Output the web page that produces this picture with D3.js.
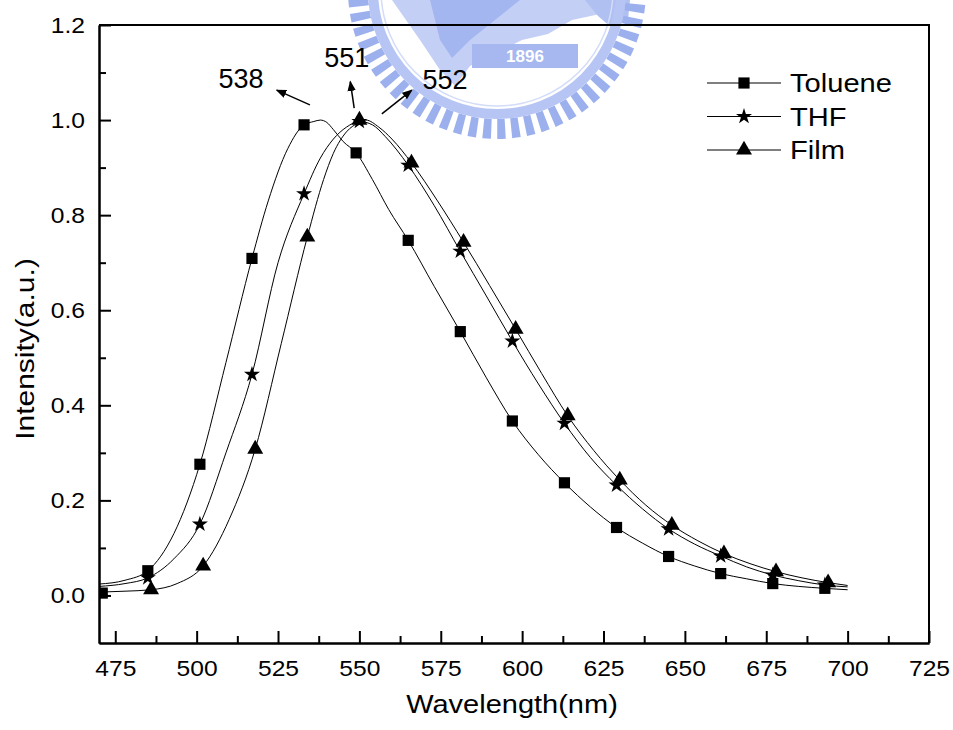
<!DOCTYPE html>
<html lang="en">
<head>
    <meta charset="UTF-8">
    <title>PL spectra</title>
    <script src="https://cdn.jsdelivr.net/npm/d3@7"></script>
    <style>
        *{
            padding: 0;
            margin: 0;
        }
        body{
            background: #fff;
        }
        svg{
            display: block;
            font-family: "Liberation Sans", Arial, sans-serif;
        }
    </style>
</head>
<body>
<script>
    // axis ticks
    let xTicks = [475,500,525,550,575,600,625,650,675,700,725];
    let xMinor = [487.5,512.5,537.5,562.5,587.5,612.5,637.5,662.5,687.5,712.5];
    let yTicks = [0,0.2,0.4,0.6,0.8,1.0,1.2];
    let yMinor = [0.1,0.3,0.5,0.7,0.9,1.1];
    let seriesNames = ["Toluene","THF","Film"];

    // spectra (wavelength nm / normalised intensity)
    let tolueneWl  = [470,478,485,493,501,509,517,522,528,533,536,538,540,542,545,549,554,559,565,573,581,589,597,605,613,621,629,637,645,653,661,669,677,685,693,700];
    let tolueneInt = [0.024,0.032,0.052,0.13,0.276,0.49,0.709,0.83,0.94,0.99,0.997,1.0,0.995,0.98,0.955,0.931,0.875,0.812,0.747,0.65,0.555,0.458,0.367,0.296,0.237,0.186,0.143,0.11,0.082,0.062,0.046,0.035,0.025,0.019,0.015,0.012];
    let thfWl  = [470,478,485,493,501,509,517,525,533,538,542,546,550,554,558,565,573,581,589,597,605,613,621,629,637,645,653,661,669,677,685,693,700];
    let thfInt = [0.019,0.025,0.037,0.077,0.15,0.3,0.465,0.7,0.845,0.92,0.96,0.985,0.997,0.99,0.965,0.905,0.82,0.724,0.63,0.535,0.445,0.362,0.29,0.232,0.182,0.14,0.108,0.083,0.06,0.043,0.031,0.022,0.018];
    let filmWl  = [470,478,486,494,502,510,518,526,534,539,542,546,550,552,556,560,566,574,582,590,598,606,614,622,630,638,646,654,662,670,678,686,694,700];
    let filmInt = [0.007,0.009,0.012,0.025,0.062,0.16,0.308,0.53,0.754,0.875,0.93,0.975,0.995,1.0,0.985,0.96,0.91,0.83,0.743,0.652,0.56,0.467,0.378,0.305,0.243,0.19,0.148,0.115,0.088,0.067,0.05,0.037,0.027,0.021];

    // symbols along each curve
    let tolueneMarkWl  = [471,485,501,517,533,549,565,581,597,613,629,645,661,677,693];
    let tolueneMarkInt = [0.005,0.052,0.276,0.709,0.99,0.931,0.747,0.555,0.367,0.237,0.143,0.082,0.046,0.025,0.015];
    let thfMarkWl  = [485,501,517,533,550,565,581,597,613,629,645,661,677,693];
    let thfMarkInt = [0.037,0.15,0.465,0.845,0.997,0.905,0.724,0.535,0.362,0.232,0.14,0.083,0.043,0.022];
    let filmMarkWl  = [486,502,518,534,550,566,582,598,614,630,646,662,678,694];
    let filmMarkInt = [0.012,0.062,0.308,0.754,1.0,0.91,0.743,0.56,0.378,0.243,0.148,0.088,0.05,0.027];

    let peakLabels = ["538","551","552"];

    let W = 953, H = 730;
    let sx = 1.12; // text is drawn a bit wider than Arial
    let svg = d3.select("body")
        .append("svg")
        .attr("width", W)
        .attr("height", H);

    let x = d3.scaleLinear().domain([470,725]).range([99,929]);
    let y = d3.scaleLinear().domain([-0.1,1.2]).range([643,25]);

    // background school logo (watermark)
    function drawLogo(){
        let g = svg.append("g");
        let cx = 497, cy = -10;
        g.append("path")
            .attr("d","M392,0 L612,0 L600,14 L572,20 L548,34 L522,40 L470,66 L455,86 L440,70 L420,40 Z")
            .attr("fill","#c3cff5");
        g.append("path")
            .attr("d","M430,0 L520,0 L470,40 L452,58 L440,40 Z")
            .attr("fill","#a3b6ef");
        g.append("path")
            .attr("d","M585,0 L630,0 L628,20 L612,28 L598,16 Z")
            .attr("fill","#b0c0f1");
        g.append("circle")
            .attr("cx",cx).attr("cy",cy).attr("r",139)
            .attr("fill","none")
            .attr("stroke","#9cb0ee")
            .attr("stroke-width",20)
            .attr("stroke-dasharray","8 6");
        g.append("circle")
            .attr("cx",cx).attr("cy",cy).attr("r",124)
            .attr("fill","none")
            .attr("stroke","#b6c5f3")
            .attr("stroke-width",10);
        g.append("circle")
            .attr("cx",cx).attr("cy",cy).attr("r",116)
            .attr("fill","none")
            .attr("stroke","#d3dcf8")
            .attr("stroke-width",1.5);
        g.append("rect")
            .attr("x",472).attr("y",44)
            .attr("width",106).attr("height",24)
            .attr("fill","#a6b8ef");
        g.append("text")
            .attr("x",525).attr("y",62)
            .attr("text-anchor","middle")
            .attr("font-size",17)
            .attr("font-weight","bold")
            .attr("fill","#fff")
            .text("1896");
    }
    drawLogo();

    // axes
    let xAxis = svg.append("g")
        .attr("transform","translate(0," + y(-0.1) + ")")
        .call(d3.axisBottom(x).tickValues(xTicks).tickSize(-12).tickSizeOuter(0).tickPadding(17).tickFormat(d3.format("d")));
    svg.append("g")
        .attr("transform","translate(0," + y(-0.1) + ")")
        .call(d3.axisBottom(x).tickValues(xMinor).tickSize(-7).tickSizeOuter(0).tickFormat(""));
    let yAxis = svg.append("g")
        .attr("transform","translate(" + x(470) + ",0)")
        .call(d3.axisLeft(y).tickValues(yTicks).tickSize(-12).tickSizeOuter(0).tickPadding(14).tickFormat(d3.format(".1f")));
    svg.append("g")
        .attr("transform","translate(" + x(470) + ",0)")
        .call(d3.axisLeft(y).tickValues(yMinor).tickSize(-7).tickSizeOuter(0).tickFormat(""));
    svg.selectAll(".tick line, .domain").attr("stroke","#000").attr("stroke-width",2);
    svg.selectAll(".tick text").attr("fill","#000").attr("font-size",22).attr("font-family",null);
    xAxis.selectAll(".tick text").attr("transform","scale(" + sx + ",1)");
    yAxis.selectAll(".tick text").attr("x",-14 / sx).attr("transform","scale(" + sx + ",1)");

    // top and right frame
    svg.append("path")
        .attr("d","M" + x(470) + "," + y(1.2) + "H" + x(725) + "V" + y(-0.1))
        .attr("fill","none")
        .attr("stroke","#000")
        .attr("stroke-width",2);

    // axis titles
    function label(txt, px, py, size, stretch, rot){
        svg.append("text")
            .attr("transform","translate(" + px + "," + py + ") rotate(" + (rot || 0) + ") scale(" + stretch + ",1)")
            .attr("text-anchor","middle")
            .attr("font-size",size)
            .text(txt);
    }
    label("Wavelength(nm)", (x(470) + x(725)) / 2 - 2, 713, 25, 1.16);
    label("Intensity(a.u.)", 34, 349, 25, 1.2, -90);

    // curves
    svg.append("clipPath").attr("id","plotclip")
        .append("rect")
        .attr("x",x(470)).attr("y",y(1.2))
        .attr("width",x(725) - x(470)).attr("height",y(-0.1) - y(1.2));
    let plot = svg.append("g").attr("clip-path","url(#plotclip)");

    let line = d3.line()
        .x(function(d){ return x(d[0]); })
        .y(function(d){ return y(d[1]); })
        .curve(d3.curveMonotoneX);

    let series = [
        {name:seriesNames[0], wl:tolueneWl, val:tolueneInt, mwl:tolueneMarkWl, mval:tolueneMarkInt, sym:d3.symbolSquare, size:125},
        {name:seriesNames[1], wl:thfWl, val:thfInt, mwl:thfMarkWl, mval:thfMarkInt, sym:d3.symbolStar, size:80},
        {name:seriesNames[2], wl:filmWl, val:filmInt, mwl:filmMarkWl, mval:filmMarkInt, sym:d3.symbolTriangle, size:110}
    ];

    series.forEach(function(s){
        plot.append("path")
            .datum(d3.zip(s.wl, s.val))
            .attr("d", line)
            .attr("fill","none")
            .attr("stroke","#000")
            .attr("stroke-width",1);
    });
    series.forEach(function(s){
        plot.selectAll(null)
            .data(d3.zip(s.mwl, s.mval))
            .enter().append("path")
            .attr("d", d3.symbol().type(s.sym).size(s.size))
            .attr("transform", function(d){ return "translate(" + x(d[0]) + "," + y(d[1]) + ")"; })
            .attr("fill","#000");
    });

    // peak annotations (positions in data units)
    svg.append("defs").append("marker")
        .attr("id","arrow")
        .attr("viewBox","0 0 10 10")
        .attr("refX",9).attr("refY",5)
        .attr("markerWidth",7).attr("markerHeight",7)
        .attr("orient","auto")
        .append("path")
        .attr("d","M0,1 L10,5 L0,9 Z")
        .attr("fill","#000");
    let notes = [
        {txt:peakLabels[0], tx:513.6, ty:1.068, from:[534.8,1.032], to:[524.6,1.063]},
        {txt:peakLabels[1], tx:546.1, ty:1.112, from:[548.4,1.025], to:[547.2,1.081]},
        {txt:peakLabels[2], tx:576.3, ty:1.066, from:[556.9,1.013], to:[566.1,1.063]}
    ];
    notes.forEach(function(n){
        svg.append("line")
            .attr("x1",x(n.from[0])).attr("y1",y(n.from[1]))
            .attr("x2",x(n.to[0])).attr("y2",y(n.to[1]))
            .attr("stroke","#000")
            .attr("stroke-width",1.5)
            .attr("marker-end","url(#arrow)");
        svg.append("text")
            .attr("x",x(n.tx)).attr("y",y(n.ty))
            .attr("text-anchor","middle")
            .attr("font-size",27)
            .text(n.txt);
    });

    // legend
    let legend = svg.append("g").attr("transform","translate(707,83)");
    series.forEach(function(s,i){
        let row = legend.append("g").attr("transform","translate(0," + (i * 33.5) + ")");
        row.append("line")
            .attr("x1",0).attr("x2",74)
            .attr("stroke","#000").attr("stroke-width",1);
        row.append("path")
            .attr("d", d3.symbol().type(s.sym).size(s.size))
            .attr("transform","translate(37,0)")
            .attr("fill","#000");
        row.append("text")
            .attr("transform","translate(83,9) scale(" + sx + ",1)")
            .attr("font-size",26)
            .text(s.name);
    });
</script>
</body>
</html>
